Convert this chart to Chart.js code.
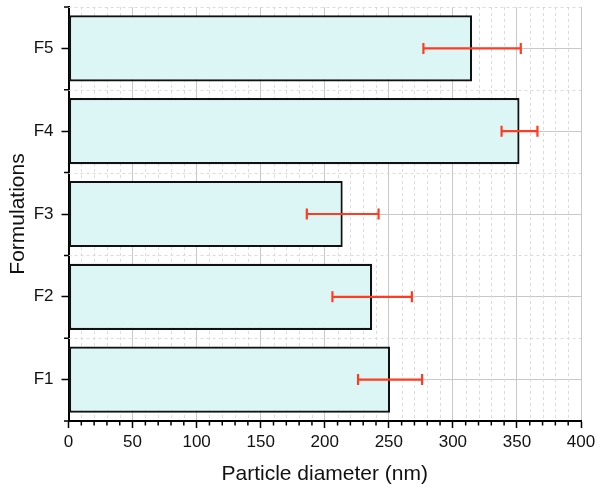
<!DOCTYPE html>
<html>
<head>
<meta charset="utf-8">
<script src="https://cdn.jsdelivr.net/npm/chart.js@4.4.1/dist/chart.umd.min.js"></script>
<style>
    html, body { margin: 0; padding: 0; background: #fff; }
    #wrap { width: 598px; height: 492px; }
</style>
</head>
<body>
<div id="wrap"><canvas id="sizeChart"></canvas></div>
<script>
const categories = ['F1', 'F2', 'F3', 'F4', 'F5'];
const diameters = [251, 237, 214, 352, 315];
const diameterErr = [25, 31, 28, 14, 38];
const xTickValues = [0, 50, 100, 150, 200, 250, 300, 350, 400];
const xMinorStep = 10;

const FONT = "'Liberation Sans', Arial, sans-serif";
const ERR_COLOR = '#ff3b22';

// dashed minor grid + short minor ticks on both axes
const minorGrid = {
    id: 'minorGrid',
    beforeDatasetsDraw(chart) {
        const { ctx, chartArea: a, scales: { x, y } } = chart;
        const xs = [];
        for (let v = xTickValues[0]; v <= xTickValues[xTickValues.length - 1]; v += xMinorStep) {
            if (!xTickValues.includes(v)) xs.push(x.getPixelForValue(v));
        }
        const bounds = [];
        for (let i = 0; i < categories.length - 1; i++) {
            bounds.push((y.getPixelForTick(i) + y.getPixelForTick(i + 1)) / 2);
        }

        ctx.save();
        ctx.strokeStyle = '#dcdcdc';
        ctx.lineWidth = 1;
        ctx.setLineDash([3, 3]);
        ctx.beginPath();
        xs.forEach(px => { ctx.moveTo(Math.round(px) + 0.5, a.top); ctx.lineTo(Math.round(px) + 0.5, a.bottom); });
        [a.top].concat(bounds).forEach(py => { ctx.moveTo(a.left, Math.round(py) + 0.5); ctx.lineTo(a.right, Math.round(py) + 0.5); });
        ctx.stroke();

        ctx.setLineDash([]);
        ctx.strokeStyle = '#000';
        ctx.lineWidth = 1.5;
        ctx.beginPath();
        xs.forEach(px => { ctx.moveTo(px, a.bottom); ctx.lineTo(px, a.bottom + 4.5); });
        [a.top, a.bottom].concat(bounds).forEach(py => { ctx.moveTo(a.left, py); ctx.lineTo(a.left - 4.5, py); });
        ctx.stroke();
        ctx.restore();
    }
};

// horizontal error bars with end caps
const errorBars = {
    id: 'errorBars',
    afterDatasetsDraw(chart) {
        const { ctx, scales: { x } } = chart;
        const meta = chart.getDatasetMeta(0);
        ctx.save();
        ctx.strokeStyle = ERR_COLOR;
        ctx.lineWidth = 2.2;
        meta.data.forEach((bar, i) => {
            const lo = x.getPixelForValue(diameters[i] - diameterErr[i]);
            const hi = x.getPixelForValue(diameters[i] + diameterErr[i]);
            const cy = bar.y;
            ctx.beginPath();
            ctx.moveTo(lo, cy); ctx.lineTo(hi, cy);
            ctx.moveTo(lo, cy - 5.5); ctx.lineTo(lo, cy + 5.5);
            ctx.moveTo(hi, cy - 5.5); ctx.lineTo(hi, cy + 5.5);
            ctx.stroke();
        });
        ctx.restore();
    }
};

new Chart(document.getElementById('sizeChart'), {
    type: 'bar',
    data: {
        labels: categories,
        datasets: [{
            data: diameters,
            backgroundColor: '#dcf6f6',
            borderColor: '#111',
            borderWidth: 2.2,
            borderSkipped: false,
            barPercentage: 0.8,
            categoryPercentage: 1
        }]
    },
    options: {
        indexAxis: 'y',
        responsive: true,
        maintainAspectRatio: false,
        animation: false,
        layout: { padding: { top: 7, right: 17, bottom: 0, left: 0 } },
        plugins: {
            legend: { display: false },
            tooltip: { enabled: false }
        },
        scales: {
            x: {
                min: 0,
                max: 400,
                afterBuildTicks: s => { s.ticks = xTickValues.map(v => ({ value: v })); },
                afterFit: s => { s.height = 71; s.paddingLeft = 0; s.paddingRight = 0; },
                ticks: { color: '#111', padding: 4, font: { family: FONT, size: 17 } },
                grid: { color: '#c8c8c8', lineWidth: 1, tickColor: '#000', tickLength: 7, tickWidth: 1.5 },
                border: { color: '#000', width: 2 },
                title: {
                    display: true,
                    text: 'Particle diameter (nm)',
                    color: '#111',
                    padding: { top: 0, bottom: 5 },
                    font: { family: FONT, size: 21 }
                }
            },
            y: {
                reverse: true,
                afterFit: s => { s.width = 68.5; s.paddingTop = 0; s.paddingBottom = 0; },
                ticks: { color: '#111', padding: 8, font: { family: FONT, size: 17 } },
                grid: { offset: false, color: '#c8c8c8', lineWidth: 1, tickColor: '#000', tickLength: 7, tickWidth: 1.5 },
                border: { color: '#000', width: 2 },
                title: {
                    display: true,
                    text: 'Formulations',
                    color: '#111',
                    padding: { top: 6, bottom: 0 },
                    font: { family: FONT, size: 21 }
                }
            }
        }
    },
    plugins: [minorGrid, errorBars]
});
</script>
</body>
</html>
